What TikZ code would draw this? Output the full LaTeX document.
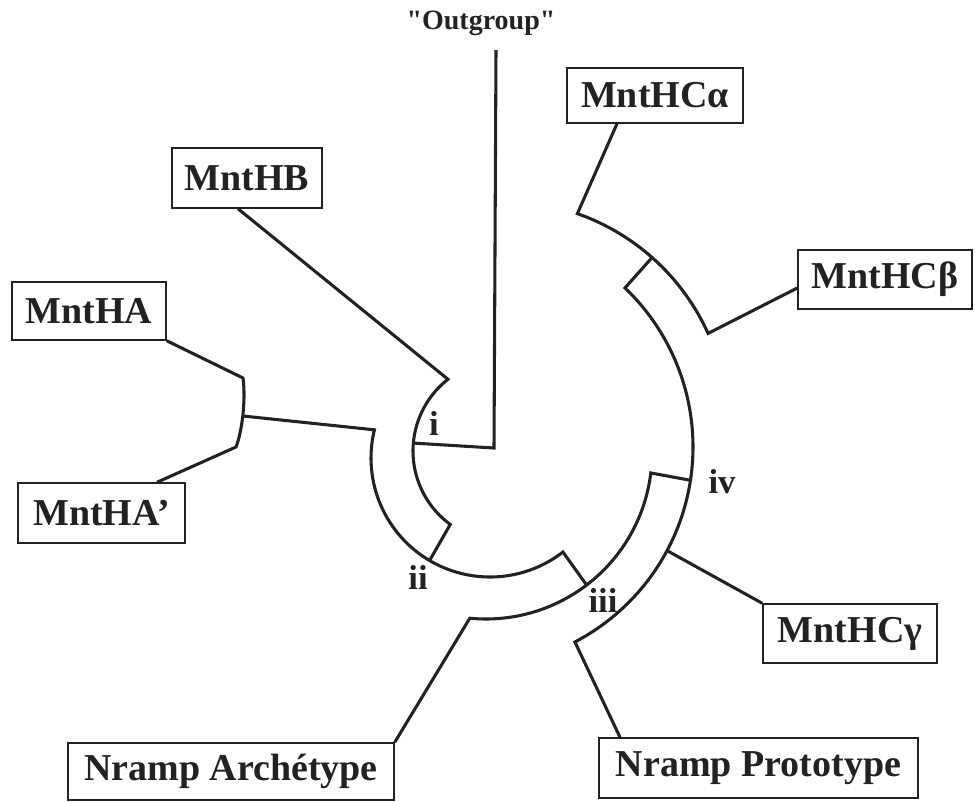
\documentclass[tikz,border=0pt]{standalone}
\usepackage{fontspec}
\setmainfont{Liberation Serif}
\usetikzlibrary{calc}
\definecolor{ink}{HTML}{222222}
\tikzset{
  tree/.style={draw=ink, line width=2.3pt, line join=miter},
  box/.style={draw=ink, line width=1.1pt, inner sep=0pt, text=ink,
              font=\fontsize{28.5}{30}\selectfont\bfseries},
  rlabel/.style={inner sep=0pt, text=ink, font=\fontsize{26}{28}\selectfont\bfseries},
}
\begin{document}
\begin{tikzpicture}[x=0.75pt,y=-0.75pt]
\fill[white] (0,0) rectangle (975,801);
\useasboundingbox (0,0) rectangle (975,801);

% boxes
\node[box, minimum width=112.5pt, minimum height=45pt]   (hb)  at (247,178)   {MntHB};
\node[box, minimum width=115.5pt, minimum height=43.5pt] (ha)  at (89,311)    {MntHA};
\node[box, minimum width=125.25pt,minimum height=45pt]   (hap) at (101.5,513) {MntHA’};
\node[box, minimum width=132pt,   minimum height=41.25pt](hca) at (655,95.5)  {MntHCα};
\node[box, minimum width=130.5pt, minimum height=44.25pt](hcb) at (885,279.5) {MntHCβ};
\node[box, minimum width=130.5pt, minimum height=44.25pt](hcg) at (850,633.5) {MntHCγ};
\node[box, minimum width=244.5pt, minimum height=42.75pt](na)  at (231,771.5) {Nramp Archétype};
\node[box, minimum width=239.25pt,minimum height=45pt]   (np)  at (758.5,768) {Nramp Prototype};

% labels
\node[inner sep=0pt, text=ink, font=\fontsize{21}{22}\selectfont\bfseries] (og) at (481,23) {\textquotedbl Outgroup\textquotedbl};
\node[rlabel] (li)   at (434,423) {i};
\node[rlabel] (lii)  at (418,577) {ii};
\node[rlabel] (liii) at (603,600) {iii};
\node[rlabel] (liv)  at (722,482) {iv};

% coordinates
\coordinate (ogt) at (496,50);
\coordinate (ogc) at (494,448);
\coordinate (io)  at ({504+91*cos(185)},{451+91*sin(185)});
\coordinate (ia)  at ({504+91*cos(232)},{451+91*sin(232)});
\coordinate (iix) at ({490+119*cos(120.5)},{458+119*sin(120.5)});
\coordinate (iia) at ({490+119*cos(193.7)},{458+119*sin(193.7)});
\coordinate (iiix) at ({486+166*cos(52.7)},{453+166*sin(52.7)});
\coordinate (iiia) at ({486+166*cos(95.6)},{453+166*sin(95.6)});
\coordinate (ivx) at ({473+220*cos(8.7)},{447+220*sin(8.7)});
\coordinate (iva) at ({473+220*cos(-46.3)},{447+220*sin(-46.3)});
\coordinate (ivg) at ({473+220*cos(28.1)},{447+220*sin(28.1)});
\coordinate (vx)  at ({503+225*cos(-48.5)},{426+225*sin(-48.5)});
\coordinate (va)  at ({503+225*cos(-70.7)},{426+225*sin(-70.7)});
\coordinate (hat) at (243,378);
\coordinate (haj) at (243,416);
\coordinate (hab) at (236,447);

% outgroup
\draw[tree] (ogt) -- (ogc) -- (io);
% node i: MntHB + arc i + radial to ii
\draw[tree] ($(hb.south)+(-9,0)$) -- (ia)
  -- plot[domain=232:126.2,samples=60] ({504+91*cos(\x)},{451+91*sin(\x)})
  -- (iix);
% node ii
\draw[tree] (haj) -- (iia)
  -- plot[domain=193.7:52.2,samples=70] ({490+119*cos(\x)},{458+119*sin(\x)})
  -- (iiix);
% node iii
\draw[tree] (na.north east) -- (iiia)
  -- plot[domain=95.6:6.9,samples=70] ({486+166*cos(\x)},{453+166*sin(\x)})
  -- (ivx);
% node iv
\draw[tree] (vx) -- (iva)
  -- plot[domain=-46.3:62.4,samples=80] ({473+220*cos(\x)},{447+220*sin(\x)})
  -- ($(np.north)+(-138.5,0)$);
% MntHC alpha/beta
\draw[tree] ($(hca.south)+(-38,0)$) -- (va)
  -- plot[domain=-70.7:-24.3,samples=50] ({503+225*cos(\x)},{426+225*sin(\x)})
  -- ($(hcb.west)+(0,8.5)$);
% MntHC gamma
\draw[tree] (ivg) -- (hcg.north west);
% MntHA group
\draw[tree] (ha.south east) -- (hat) .. controls (246,400) and (242,432) .. (hab)
  -- ($(hap.north)+(55.5,0)$);
\end{tikzpicture}
\end{document}
